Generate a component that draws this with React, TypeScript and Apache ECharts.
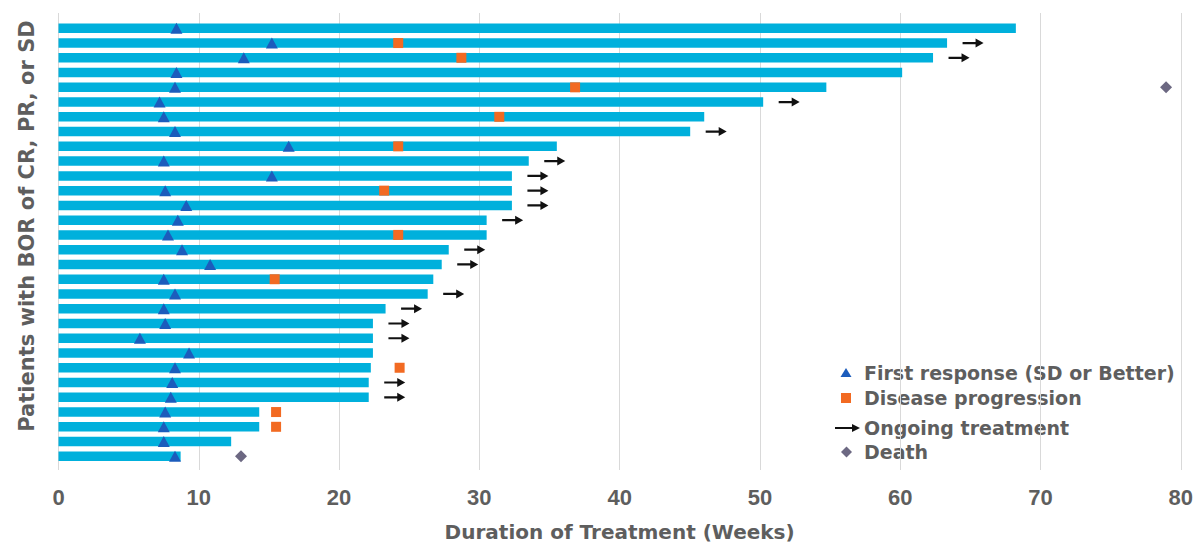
import React, { useEffect, useRef } from "react";
import * as echarts from "echarts";

// Duration of treatment (weeks), one per patient, top to bottom
const durations = [
  68.2, 63.3, 62.3, 60.1, 54.7, 50.2, 46.0, 45.0, 35.5, 33.5,
  32.3, 32.3, 32.3, 30.5, 30.5, 27.8, 27.3, 26.7, 26.3, 23.3,
  22.4, 22.4, 22.4, 22.25, 22.1, 22.1, 14.3, 14.3, 12.3, 8.7,
];
// First response (SD or better), weeks
const firstResponse = [
  8.4, 15.2, 13.2, 8.4, 8.3, 7.2, 7.5, 8.3, 16.4, 7.5,
  15.2, 7.6, 9.1, 8.5, 7.8, 8.8, 10.8, 7.5, 8.3, 7.5,
  7.6, 5.8, 9.3, 8.3, 8.1, 8.0, 7.6, 7.5, 7.5, 8.3,
];
// Disease progression: [week, patient row]
const progression: [number, number][] = [
  [24.2, 1], [28.7, 2], [36.8, 4], [31.4, 6], [24.2, 8], [23.2, 11],
  [24.2, 14], [15.4, 17], [24.3, 23], [15.5, 26], [15.5, 27],
];
// Death: [week, patient row]
const deaths: [number, number][] = [
  [78.9, 4], [13.0, 29],
];
// Patients with ongoing treatment (row index)
const ongoing = [1, 2, 5, 7, 9, 10, 11, 12, 13, 15, 16, 18, 19, 20, 21, 24, 25];

const patients = durations.map((_, i) => `Patient ${i + 1}`);
const xTicks = [0, 10, 20, 30, 40, 50, 60, 70, 80];

const legendLabels = [
  "First response (SD or Better)",
  "Disease progression",
  "Ongoing treatment",
  "Death",
];

const TEXT = "#5e5e5e";
const FONT = "'DejaVu Sans', sans-serif";
const BAR = "#00b0dc";
const TRI = "#1c5cbc";
const ORANGE = "#f26a22";
const DEATH = "#6c6882";
const ARROW =
  "path://M0,3.4 L13,3.4 L13,0 L21,4.5 L13,9 L13,5.6 L0,5.6 Z";

export default function App() {
  const ref = useRef<HTMLDivElement>(null);

  useEffect(() => {
    document.body.style.margin = "0";
    if (!ref.current) return;
    const chart = echarts.init(ref.current, undefined, { renderer: "svg" });

    const legendX = 864;
    const legendY = [373, 398, 428, 452];

    chart.setOption({
      animation: false,
      backgroundColor: "#ffffff",
      grid: [
        { left: 58.5, right: 14.5, top: 20.9, height: 442.8 },
        { left: 58.5, right: 14.5, top: 13, bottom: 66 },
      ],
      xAxis: [
        { gridIndex: 0, type: "value", min: 0, max: 80, show: false },
        {
          gridIndex: 1,
          type: "value",
          min: xTicks[0],
          max: xTicks[xTicks.length - 1],
          interval: 10,
          axisLine: { show: false },
          axisTick: { show: false },
          splitLine: { show: true, lineStyle: { color: "#d9d9d9", width: 1 } },
          axisLabel: {
            margin: 16,
            color: TEXT,
            fontFamily: "'Liberation Sans', sans-serif",
            fontWeight: "bold",
            fontSize: 22,
          },
          name: "Duration of Treatment (Weeks)",
          nameLocation: "middle",
          nameGap: 52,
          nameTextStyle: {
            color: TEXT,
            fontFamily: FONT,
            fontWeight: "bold",
            fontSize: 20,
          },
        },
      ],
      yAxis: [
        {
          gridIndex: 0,
          type: "category",
          data: patients,
          inverse: true,
          show: false,
        },
        { gridIndex: 1, type: "value", show: false },
      ],
      series: [
        {
          name: "Duration",
          type: "bar",
          xAxisIndex: 0,
          yAxisIndex: 0,
          data: durations,
          barWidth: 9.5,
          itemStyle: { color: BAR },
          z: 2,
        },
        {
          name: "First response (SD or Better)",
          type: "scatter",
          xAxisIndex: 0,
          yAxisIndex: 0,
          data: firstResponse.map((v, i) => [v, i]),
          symbol: "triangle",
          symbolSize: [12, 11],
          itemStyle: { color: TRI, opacity: 1 },
          z: 4,
        },
        {
          name: "Disease progression",
          type: "scatter",
          xAxisIndex: 0,
          yAxisIndex: 0,
          data: progression,
          symbol: "rect",
          symbolSize: [10, 10],
          itemStyle: { color: ORANGE, opacity: 1 },
          z: 4,
        },
        {
          name: "Ongoing treatment",
          type: "scatter",
          xAxisIndex: 0,
          yAxisIndex: 0,
          data: ongoing.map((k) => [durations[k], k]),
          symbol: ARROW,
          symbolSize: [21, 9],
          symbolOffset: [26, 0],
          itemStyle: { color: "#111111", opacity: 1 },
          z: 4,
        },
        {
          name: "Death",
          type: "scatter",
          xAxisIndex: 0,
          yAxisIndex: 0,
          data: deaths,
          symbol: "diamond",
          symbolSize: [12, 12],
          itemStyle: { color: DEATH, opacity: 1 },
          z: 4,
        },
      ],
      graphic: [
        {
          type: "text",
          x: 27,
          y: 226,
          rotation: Math.PI / 2,
          style: {
            text: "Patients with BOR of CR, PR, or SD",
            fill: TEXT,
            font: `bold 21px ${FONT}`,
            textAlign: "center",
            textVerticalAlign: "middle",
          },
        },
        // legend markers
        {
          type: "polygon",
          shape: {
            points: [
              [846, legendY[0] - 5],
              [851.5, legendY[0] + 4],
              [840.5, legendY[0] + 4],
            ],
          },
          style: { fill: TRI },
        },
        {
          type: "rect",
          shape: { x: 841, y: legendY[1] - 5, width: 10, height: 10 },
          style: { fill: ORANGE },
        },
        {
          type: "line",
          shape: { x1: 835, y1: legendY[2], x2: 853, y2: legendY[2] },
          style: { stroke: "#111111", lineWidth: 2 },
        },
        {
          type: "polygon",
          shape: {
            points: [
              [852, legendY[2] - 4],
              [860, legendY[2]],
              [852, legendY[2] + 4],
            ],
          },
          style: { fill: "#111111" },
        },
        {
          type: "polygon",
          shape: {
            points: [
              [846.5, legendY[3] - 5.5],
              [852, legendY[3]],
              [846.5, legendY[3] + 5.5],
              [841, legendY[3]],
            ],
          },
          style: { fill: DEATH },
        },
        ...legendLabels.map((t, i) => ({
          type: "text",
          x: legendX,
          y: legendY[i],
          style: {
            text: t,
            fill: TEXT,
            font: `bold 19px ${FONT}`,
            textAlign: "left",
            textVerticalAlign: "middle",
          },
        })),
      ],
    });

    return () => chart.dispose();
  }, []);

  return <div ref={ref} style={{ width: 1196, height: 547 }} />;
}
